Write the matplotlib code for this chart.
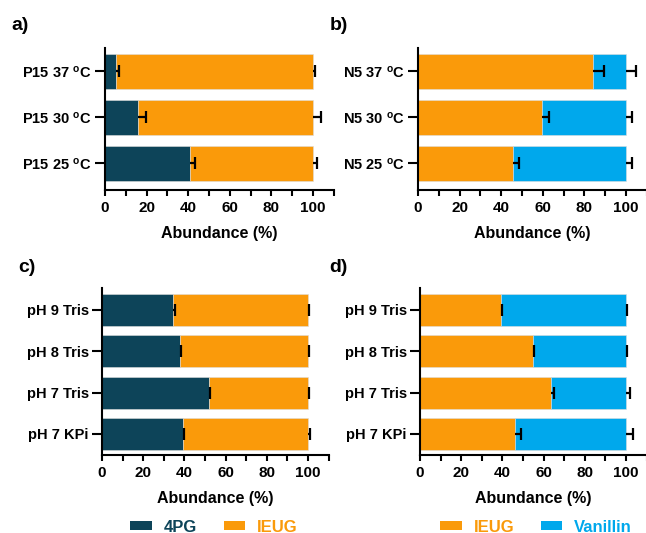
import matplotlib
matplotlib.use("Agg")
import matplotlib.pyplot as plt
from matplotlib.patches import Patch
from matplotlib.ticker import MultipleLocator

plt.rcParams['font.family'] = ['Liberation Sans', 'DejaVu Sans']
plt.rcParams['font.weight'] = 'bold'
plt.rcParams['mathtext.default'] = 'regular'

# colours
c_4pg = "#0d4459"
c_ieug = "#fa9a0a"
c_van = "#00a8ec"

# a) P15 temperature
temp_labels_a = ["P15 25 $^{o}$C", "P15 30 $^{o}$C", "P15 37 $^{o}$C"]
a_4pg = [41.0, 15.7, 5.2]
a_4pg_err = [2.1, 4.0, 1.5]
a_ieug = [59.0, 84.3, 94.8]
a_total_err = [1.8, 3.8, 1.1]

# b) N5 temperature
temp_labels_b = ["N5 25 $^{o}$C", "N5 30 $^{o}$C", "N5 37 $^{o}$C"]
b_ieug = [45.8, 59.6, 84.3]
b_ieug_err = [2.9, 3.2, 5.3]
b_van = [54.2, 40.4, 15.7]
b_total_err = [3.0, 3.0, 4.7]

# c) P15 buffer
ph_labels = ["pH 7 KPi", "pH 7 Tris", "pH 8 Tris", "pH 9 Tris"]
c_4pg_v = [39.3, 52.1, 38.0, 34.6]
c_4pg_err = [0.7, 0.4, 0.5, 0.7]
c_ieug_v = [60.7, 47.9, 62.0, 65.4]
c_total_err = [1.1, 0.4, 0.4, 0.6]

# d) N5 buffer
d_ieug_v = [46.1, 63.6, 54.7, 39.3]
d_ieug_err = [2.9, 1.4, 0.5, 0.5]
d_van_v = [53.9, 36.4, 45.3, 60.7]
d_total_err = [3.3, 1.8, 0.3, 0.6]


def err_up(ax, x, y, e):
    # one-sided error bar: line from bar end to cap, no cap at the bar end
    ends = [a + b for a, b in zip(x, e)]
    ax.hlines(y, x, ends, colors='black', linewidth=1.6)
    ax.plot(ends, y, ls='none', marker='|', markersize=8.5, markeredgewidth=1.6, color='black')


def stacked(ax, labels, v1, e1, v2, e2, col1, col2, h):
    y = list(range(len(labels)))
    ax.barh(y, v1, height=h, color=col1, edgecolor='#dddddd', linewidth=0.4)
    ax.barh(y, v2, left=v1, height=h, color=col2, edgecolor='#dddddd', linewidth=0.4)
    tot = [a + b for a, b in zip(v1, v2)]
    err_up(ax, v1, y, e1)
    err_up(ax, tot, y, e2)
    ax.set_yticks(y)
    ax.set_yticklabels(labels, fontsize=10.5, fontweight='bold')
    ax.set_xlim(0, 110)
    ax.xaxis.set_minor_locator(MultipleLocator(10))
    ax.set_xticks([0, 20, 40, 60, 80, 100])
    ax.set_xticklabels(["0", "20", "40", "60", "80", "100"], fontsize=11, fontweight='bold')
    ax.set_xlabel("Abundance (%)", fontsize=11.5, fontweight='bold', labelpad=8)
    for s in ['top', 'right']:
        ax.spines[s].set_visible(False)
    for s in ['left', 'bottom']:
        ax.spines[s].set_linewidth(1.5)
    ax.tick_params(axis='y', length=7.5, width=1.5, pad=2)
    ax.tick_params(axis='x', which='both', length=4, width=1.5, pad=4)


fig = plt.figure(figsize=(6.46, 5.33), dpi=100)
W, H = 646, 533

def add_ax(left, top, bottom, right):
    return fig.add_axes([left / W, (H - bottom) / H, (right - left) / W, (bottom - top) / H])

ax_a = add_ax(105, 48, 190, 105 + 228.8)
ax_b = add_ax(418, 48, 190, 418 + 228.8)
ax_c = add_ax(102, 288, 455, 102 + 226.6)
ax_d = add_ax(420, 288, 455, 420 + 226.6)

stacked(ax_a, temp_labels_a, a_4pg, a_4pg_err, a_ieug, a_total_err, c_4pg, c_ieug, 0.76)
stacked(ax_b, temp_labels_b, b_ieug, b_ieug_err, b_van, b_total_err, c_ieug, c_van, 0.76)
stacked(ax_c, ph_labels, c_4pg_v, c_4pg_err, c_ieug_v, c_total_err, c_4pg, c_ieug, 0.775)
stacked(ax_d, ph_labels, d_ieug_v, d_ieug_err, d_van_v, d_total_err, c_ieug, c_van, 0.775)

ax_a.set_ylim(-0.58, 2.51)
ax_b.set_ylim(-0.58, 2.51)
ax_c.set_ylim(-0.51, 3.53)
ax_d.set_ylim(-0.51, 3.53)

# panel letters
for txt, x, y in [("a)", 11, 25), ("b)", 330, 25), ("c)", 18, 268), ("d)", 329, 268)]:
    fig.text(x / W, 1 - y / H, txt, fontsize=14, fontweight='bold', va='center', ha='left')

# legends
def legend(cx, names, cols):
    handles = [Patch(facecolor=c, edgecolor='none') for c in cols]
    leg = fig.legend(handles, names, loc='center', bbox_to_anchor=(cx / W, 1 - 527 / H),
                     ncol=2, frameon=False, prop={'size': 12, 'weight': 'bold'},
                     handlelength=1.3, handleheight=0.5, handletextpad=0.7,
                     columnspacing=1.6, borderpad=0, borderaxespad=0)
    for t, c in zip(leg.get_texts(), cols):
        t.set_color(c)

legend(214, ["4PG", "IEUG"], [c_4pg, c_ieug])
legend(536, ["IEUG", "Vanillin"], [c_ieug, c_van])

fig.savefig("out.png", dpi=100)
